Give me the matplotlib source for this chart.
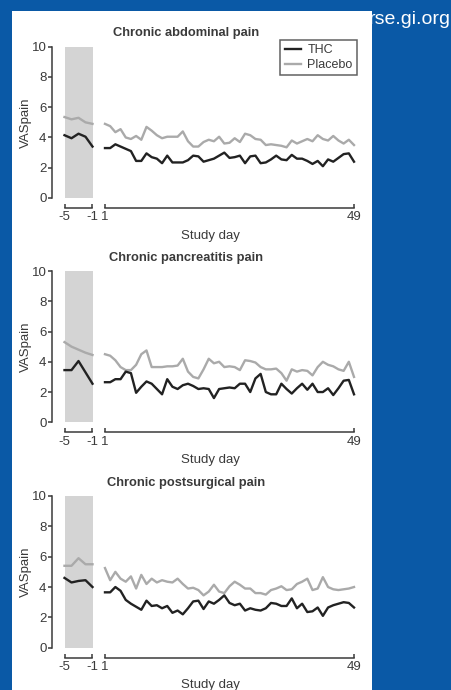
import matplotlib.pyplot as plt
from matplotlib.patches import Rectangle

plt.rcParams['font.family'] = ['Liberation Sans', 'DejaVu Sans']

# data
baseline_days = [-5, -4, -3, -2, -1]
study_days = list(range(1, 50))

titles = ["Chronic abdominal pain", "Chronic pancreatitis pain", "Chronic postsurgical pain"]

abd_thc_base = [4.15, 3.95, 4.25, 4.05, 3.4]
abd_pla_base = [5.35, 5.2, 5.3, 5.0, 4.9]
abd_thc = [3.3, 3.3, 3.55, 3.4, 3.25, 3.1, 2.45, 2.45, 2.95, 2.7, 2.6, 2.3, 2.8, 2.35, 2.35,
           2.35, 2.5, 2.8, 2.75, 2.4, 2.5, 2.6, 2.8, 3.0, 2.65, 2.7, 2.8, 2.3, 2.75, 2.8,
           2.3, 2.35, 2.55, 2.8, 2.55, 2.5, 2.85, 2.6, 2.6, 2.45, 2.25, 2.45, 2.1, 2.55, 2.4,
           2.65, 2.9, 2.95, 2.4]
abd_pla = [4.9, 4.75, 4.35, 4.55, 4.0, 3.9, 4.1, 3.85, 4.7, 4.45, 4.15, 3.95, 4.05, 4.05, 4.05,
           4.4, 3.75, 3.4, 3.4, 3.7, 3.85, 3.75, 4.05, 3.6, 3.65, 3.95, 3.7, 4.25, 4.15, 3.9,
           3.85, 3.5, 3.55, 3.5, 3.45, 3.35, 3.8, 3.6, 3.75, 3.9, 3.75, 4.15, 3.9, 3.8, 4.1,
           3.8, 3.6, 3.85, 3.5]

pan_thc_base = [3.45, 3.45, 4.05, 3.3, 2.55]
pan_pla_base = [5.3, 5.0, 4.8, 4.6, 4.45]
pan_thc = [2.65, 2.65, 2.85, 2.85, 3.35, 3.25, 1.95, 2.35, 2.7, 2.55, 2.2, 1.85, 2.85, 2.35, 2.2,
           2.45, 2.55, 2.4, 2.2, 2.25, 2.2, 1.6, 2.2, 2.25, 2.3, 2.25, 2.55, 2.55, 2.0, 2.9,
           3.2, 2.0, 1.85, 1.85, 2.55, 2.2, 1.9, 2.25, 2.55, 2.15, 2.55, 2.0, 2.0, 2.25, 1.8,
           2.25, 2.75, 2.8, 1.85]
pan_pla = [4.5, 4.4, 4.1, 3.65, 3.45, 3.45, 3.8, 4.5, 4.75, 3.65, 3.65, 3.65, 3.7, 3.7, 3.75,
           4.2, 3.35, 3.0, 2.9, 3.5, 4.2, 3.9, 4.0, 3.65, 3.7, 3.65, 3.45, 4.1, 4.05, 3.95,
           3.65, 3.5, 3.5, 3.55, 3.25, 2.75, 3.5, 3.35, 3.45, 3.4, 3.1, 3.65, 4.0, 3.8, 3.7,
           3.5, 3.4, 4.0, 3.0]

post_thc_base = [4.6, 4.3, 4.4, 4.45, 4.0]
post_pla_base = [5.4, 5.4, 5.9, 5.5, 5.5]
post_thc = [3.65, 3.65, 4.0, 3.75, 3.15, 2.9, 2.7, 2.5, 3.1, 2.75, 2.8, 2.6, 2.75, 2.3, 2.45,
            2.2, 2.6, 3.05, 3.1, 2.55, 3.05, 2.9, 3.15, 3.45, 2.95, 2.8, 2.9, 2.45, 2.6, 2.5,
            2.45, 2.6, 2.95, 2.9, 2.75, 2.75, 3.25, 2.6, 2.9, 2.35, 2.4, 2.65, 2.1, 2.65, 2.8,
            2.9, 3.0, 2.95, 2.65]
post_pla = [5.25, 4.45, 5.0, 4.55, 4.35, 4.7, 3.9, 4.8, 4.2, 4.55, 4.3, 4.45, 4.35, 4.3, 4.55,
            4.2, 3.9, 3.95, 3.8, 3.45, 3.7, 4.15, 3.7, 3.6, 4.05, 4.35, 4.15, 3.9, 3.9, 3.6,
            3.6, 3.5, 3.8, 3.9, 4.05, 3.8, 3.85, 4.2, 4.35, 4.55, 3.8, 3.9, 4.65, 4.0, 3.85,
            3.8, 3.85, 3.9, 4.0]

panels = [
    (abd_thc_base, abd_pla_base, abd_thc, abd_pla),
    (pan_thc_base, pan_pla_base, pan_thc, pan_pla),
    (post_thc_base, post_pla_base, post_thc, post_pla),
]

W, H = 452, 690
BLUE = '#0a59a6'
INK = '#3a3a3a'
THC_COL = '#222222'
PLA_COL = '#aaaaaa'
FS = 9.5

fig = plt.figure(figsize=(W / 100, H / 100), dpi=100, facecolor=BLUE)
fig.patches.append(Rectangle((12 / W, 0), (372 - 12) / W, 1 - 10.5 / H,
                             transform=fig.transFigure, facecolor='white',
                             edgecolor='none', zorder=-10))
fig.text(451 / W, 1 - 20 / H, "rse.gi.org", color='white', fontsize=14,
         ha='right', va='center')

# pixel positions of y=10 and y=0 for each panel, title / xlabel rows
rows = [(46.7, 198.0, 33, 236), (271.0, 422.3, 258, 460), (496.0, 647.7, 483, 685)]


def style_bottom(ax, lo, hi):
    ax.spines['bottom'].set_position(('outward', 7.2))
    ax.spines['bottom'].set_bounds(lo, hi)
    ax.spines['bottom'].set_color(INK)
    ax.spines['bottom'].set_linewidth(1.1)
    ax.set_xticks([lo, hi])
    ax.set_xticklabels([str(lo), str(hi)])
    ax.tick_params(axis='x', direction='in', length=3, width=1.1, colors=INK,
                   labelsize=FS, pad=2.5)


for i, (tb, pb, ts, ps) in enumerate(panels):
    y10, y0, ty, ly = rows[i]
    h = (y0 - y10) / H
    b = 1 - y0 / H

    ax1 = fig.add_axes([52 / W, b, 44 / W, h])
    ax2 = fig.add_axes([99.8 / W, b, (359.2 - 99.8) / W, h])
    for ax in (ax1, ax2):
        ax.set_facecolor('none')
        ax.set_ylim(0, 10)
        ax.spines['top'].set_visible(False)
        ax.spines['right'].set_visible(False)

    ax1.set_xlim(-5 - 12.5 / 7, -0.5)
    ax2.set_xlim(0, 50)

    ax1.axvspan(-5, -1, color='#d4d4d4', zorder=0, lw=0)
    ax1.plot(baseline_days, pb, color=PLA_COL, lw=1.7)
    ax1.plot(baseline_days, tb, color=THC_COL, lw=1.7)
    ax2.plot(study_days, ps, color=PLA_COL, lw=1.7, label='Placebo')
    ax2.plot(study_days, ts, color=THC_COL, lw=1.7, label='THC')

    ax1.spines['left'].set_color(INK)
    ax1.spines['left'].set_linewidth(1.1)
    ax1.set_yticks([0, 2, 4, 6, 8, 10])
    ax1.tick_params(axis='y', direction='out', length=3, width=1.1, colors=INK,
                    labelsize=FS, pad=1)
    ax1.set_ylabel("VASpain", fontsize=FS, color=INK, labelpad=0)

    ax2.spines['left'].set_visible(False)
    ax2.set_yticks([])

    style_bottom(ax1, -5, -1)
    style_bottom(ax2, 1, 49)

    fig.text(186 / W, 1 - ty / H, titles[i], fontsize=9.3, fontweight='bold',
             color=INK, ha='center', va='center')
    fig.text(210 / W, 1 - ly / H, "Study day", fontsize=FS, color=INK,
             ha='center', va='center')

    if i == 0:
        hs, ls = ax2.get_legend_handles_labels()
        leg = ax2.legend(hs[::-1], ls[::-1], loc='upper right',
                         bbox_to_anchor=(357 / W, 1 - 40 / H),
                         bbox_transform=fig.transFigure, fontsize=9,
                         fancybox=False, frameon=True, handlelength=1.3,
                         handletextpad=0.5, borderpad=0.35, labelspacing=0.2,
                         borderaxespad=0)
        leg.get_frame().set_edgecolor(INK)
        leg.get_frame().set_linewidth(1.1)
        for t in leg.get_texts():
            t.set_color(INK)

fig.savefig("out.png", dpi=100, facecolor=BLUE)
